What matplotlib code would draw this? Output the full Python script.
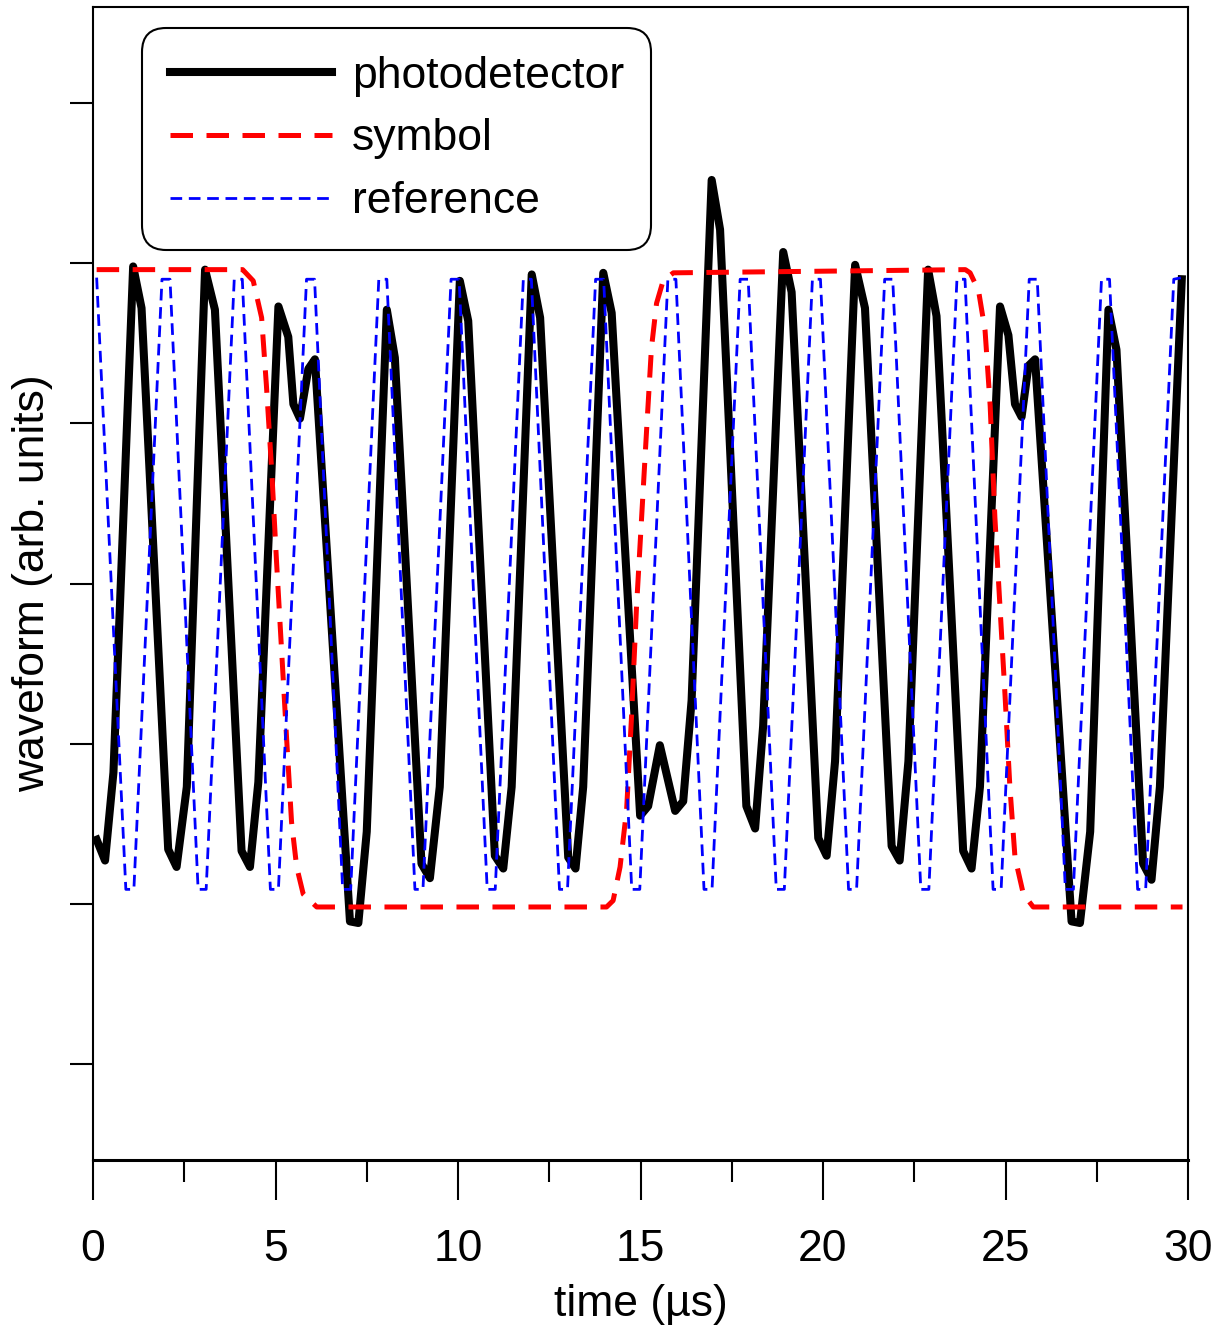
import matplotlib
matplotlib.use("Agg")
import matplotlib.pyplot as plt
from matplotlib.ticker import MultipleLocator

plt.rcParams['font.family'] = ['Liberation Sans', 'DejaVu Sans']

# photodetector signal (vertices)
pd_t = [0.10, 0.33, 0.56, 1.10, 1.33, 2.06, 2.29, 2.57, 3.07, 3.34,
        4.07, 4.30, 4.53, 5.08, 5.35, 5.49, 5.67, 5.90, 6.08, 7.04,
        7.27, 7.50, 8.05, 8.27, 9.00, 9.23, 9.50, 10.05, 10.28, 11.01,
        11.24, 11.47, 12.02, 12.25, 13.02, 13.22, 13.43, 13.98, 14.21, 14.99,
        15.21, 15.53, 15.95, 16.17, 16.40, 16.95, 17.18, 17.90, 18.14, 18.36,
        18.91, 19.14, 19.87, 20.10, 20.33, 20.88, 21.15, 21.88, 22.10, 22.34,
        22.88, 23.11, 23.84, 24.07, 24.30, 24.85, 25.08, 25.26, 25.44, 25.63,
        25.81, 26.81, 27.04, 27.32, 27.82, 28.04, 28.77, 29.00, 29.23, 29.83]
pd_v = [-1.60, -1.73, -1.18, 1.98, 1.72, -1.66, -1.77, -1.27, 1.96, 1.71,
        -1.67, -1.77, -1.24, 1.73, 1.54, 1.12, 1.03, 1.34, 1.40, -2.11,
        -2.12, -1.55, 1.71, 1.41, -1.75, -1.84, -1.27, 1.89, 1.64, -1.70,
        -1.78, -1.27, 1.93, 1.66, -1.71, -1.78, -1.27, 1.94, 1.69, -1.45,
        -1.39, -1.01, -1.42, -1.36, -0.73, 2.52, 2.21, -1.39, -1.53, -0.89,
        2.07, 1.82, -1.59, -1.70, -1.11, 1.99, 1.72, -1.64, -1.73, -1.11,
        1.96, 1.67, -1.67, -1.78, -1.27, 1.73, 1.55, 1.12, 1.04, 1.36,
        1.40, -2.11, -2.12, -1.55, 1.71, 1.46, -1.75, -1.85, -1.27, 1.90]

# symbol
sym_t = [0.10, 4.10, 4.39, 4.62, 4.75, 4.90, 5.03, 5.17, 5.31, 5.44,
         5.58, 5.76, 6.13, 14.07, 14.25, 14.44, 14.62, 14.75, 14.89, 15.03,
         15.17, 15.30, 15.44, 15.62, 15.90, 23.90, 24.03, 24.26, 24.44, 24.58,
         24.71, 24.85, 24.99, 25.12, 25.26, 25.49, 25.76, 29.85]
sym_v = [1.96, 1.96, 1.89, 1.66, 1.24, 0.69, 0.13, -0.43, -0.99, -1.49,
         -1.77, -1.94, -2.02, -2.02, -1.98, -1.77, -1.41, -0.85, -0.15, 0.41,
         0.97, 1.47, 1.75, 1.89, 1.94, 1.96, 1.94, 1.83, 1.58, 1.11,
         0.41, -0.15, -0.71, -1.27, -1.71, -1.94, -2.02, -2.02]

# reference
ref_t = [0.10, 0.90, 1.12, 1.89, 2.11, 2.88, 3.10, 3.87, 4.09, 4.86,
         5.08, 5.85, 6.07, 6.84, 7.06, 7.83, 8.05, 8.82, 9.04, 9.81,
         10.03, 10.80, 11.02, 11.79, 12.01, 12.78, 13.00, 13.77, 13.99, 14.76,
         14.98, 15.75, 15.97, 16.74, 16.96, 17.73, 17.95, 18.72, 18.94, 19.71,
         19.93, 20.70, 20.92, 21.69, 21.91, 22.68, 22.90, 23.67, 23.89, 24.66,
         24.88, 25.65, 25.87, 26.64, 26.86, 27.63, 27.85, 28.62, 28.84, 29.61,
         29.83]
ref_v = [1.91, -1.91, -1.91, 1.90, 1.90, -1.91, -1.91, 1.90, 1.90, -1.91,
         -1.91, 1.90, 1.90, -1.91, -1.91, 1.90, 1.90, -1.91, -1.91, 1.90,
         1.90, -1.91, -1.91, 1.90, 1.90, -1.91, -1.91, 1.90, 1.90, -1.91,
         -1.91, 1.90, 1.90, -1.91, -1.91, 1.90, 1.90, -1.91, -1.91, 1.90,
         1.90, -1.91, -1.91, 1.90, 1.90, -1.91, -1.91, 1.90, 1.90, -1.91,
         -1.91, 1.90, 1.90, -1.91, -1.91, 1.90, 1.90, -1.91, -1.91, 1.90,
         1.91]

fig = plt.figure(figsize=(12.19, 13.32), dpi=100)
ax = fig.add_axes([93/1219, 1-1160/1332, (1188-93)/1219, (1160-7)/1332])

ax.plot(pd_t, pd_v, color='black', lw=5.8, label='photodetector', zorder=2)
ax.plot(sym_t, sym_v, color='red', lw=3.6, ls=(0, (4.5, 2.7)), label='symbol', zorder=3)
ax.plot(ref_t, ref_v, color='blue', lw=2.0, ls=(0, (4.2, 2.4)), label='reference', zorder=4)

ax.set_xlim(0, 30)
ax.set_ylim(-3.6, 3.6)
ax.xaxis.set_major_locator(MultipleLocator(5))
ax.xaxis.set_minor_locator(MultipleLocator(2.5))
ax.yaxis.set_major_locator(MultipleLocator(1))
ax.tick_params(axis='x', which='major', direction='out', length=29, width=1.5,
               labelsize=32, pad=21)
ax.tick_params(axis='x', which='minor', direction='out', length=16, width=1.5)
ax.tick_params(axis='y', which='major', direction='out', length=16.5, width=1.5,
               labelleft=False)
for s in ax.spines.values():
    s.set_linewidth(1.5)
ax.spines['bottom'].set_linewidth(2.2)

ax.set_xlabel('time (µs)', fontsize=32, labelpad=10)
ax.set_ylabel('waveform (arb. units)', fontsize=32)
ax.yaxis.set_label_coords(-0.0365, 0.5)

leg = ax.legend(loc='upper left', bbox_to_anchor=(142/1219, 1-28/1332),
                bbox_transform=fig.transFigure, borderaxespad=0, fontsize=32,
                handlelength=3.65, handletextpad=0.45, labelspacing=0.49,
                borderpad=0.62, frameon=True, fancybox=True, framealpha=1)
frame = leg.get_frame()
frame.set_edgecolor('black')
frame.set_linewidth(1.5)
frame.set_boxstyle('round,pad=0,rounding_size=0.55')

fig.savefig('out.png', dpi=100)
